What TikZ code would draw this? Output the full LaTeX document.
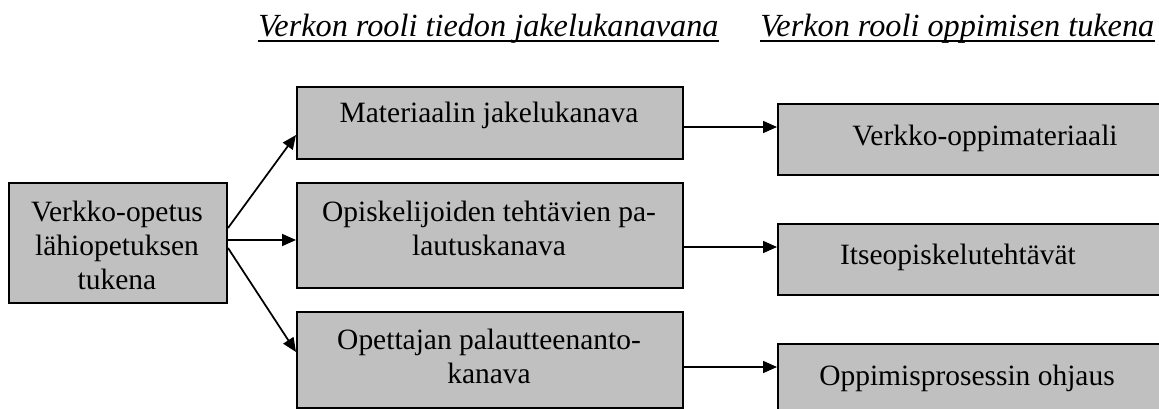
\documentclass[tikz,border=0pt]{standalone}
\usepackage{fontspec}
\setmainfont{Liberation Serif}
\usetikzlibrary{arrows.meta,calc}
\definecolor{boxgray}{HTML}{C0C0C0}
\tikzset{
  box/.style={draw=black, fill=boxgray, line width=1.5pt, inner sep=0pt, anchor=north west},
  boxtext/.style={inner sep=0pt, align=center, font=\fontsize{22.1}{25.5}\selectfont},
  title/.style={inner sep=0pt, anchor=base west, font=\fontsize{24.2}{27}\selectfont\itshape},
  conn/.style={line width=1.3pt, -{Triangle[length=10.5pt,width=9pt]}},
  uline/.style={line width=1.5pt}
}
\begin{document}
\begin{tikzpicture}[x=0.75pt,y=-0.75pt]
\useasboundingbox (0,0) rectangle (1159,409);
\begin{scope}
\clip (0,0) rectangle (1159,409);
% boxes
\node[box, minimum width=218*0.75pt, minimum height=120*0.75pt] (L) at (8,182) {};
\node[box, minimum width=386*0.75pt, minimum height=72*0.75pt] (M1) at (296,86) {};
\node[box, minimum width=386*0.75pt, minimum height=105*0.75pt] (M2) at (296,182) {};
\node[box, minimum width=386*0.75pt, minimum height=96*0.75pt] (M3) at (296,311) {};
\node[box, minimum width=430*0.75pt, minimum height=71*0.75pt] (R1) at (777,103) {};
\node[box, minimum width=430*0.75pt, minimum height=71*0.75pt] (R2) at (777,223) {};
\node[box, minimum width=430*0.75pt, minimum height=71*0.75pt] (R3) at (777,343) {};
\end{scope}
% texts
\node[boxtext, anchor=base] (tL) at (117,290) {Verkko-opetus\\lähiopetuksen\\tukena};
\node[boxtext, anchor=base] (tM1) at (489,123) {Materiaalin jakelukanava};
\node[boxtext, anchor=base] (tM2) at (489,256) {Opiskelijoiden tehtävien pa-\\lautuskanava};
\node[boxtext, anchor=base] (tM3) at (489,383) {Opettajan palautteenanto-\\kanava};
\node[boxtext, anchor=base] (tR1) at (985,146) {Verkko-oppimateriaali};
\node[boxtext, anchor=base] (tR2) at (958,265) {Itseopiskelutehtävät};
\node[boxtext, anchor=base] (tR3) at (967,385) {Oppimisprosessin ohjaus};
% titles
\node[title] (T1) at (258,37) {Verkon rooli tiedon jakelukanavana};
\node[title] (T2) at (760,37) {Verkon rooli oppimisen tukena};
\draw[uline] ($(T1.base west)+(0,4)$) -- ($(T1.base east)+(0,4)$);
\draw[uline] ($(T2.base west)+(0,4)$) -- ($(T2.base east)+(0,4)$);
% connectors
\draw[conn] ($(L.north east)+(0,46)$) -- ($(M1.north west)+(0,49)$);
\draw[conn] ($(L.north east)+(0,58)$) -- ($(M2.north west)+(0,58)$);
\draw[conn] ($(L.north east)+(0,66)$) -- ($(M3.north west)+(0,41)$);
\draw[conn] ($(M1.north east)+(0,41)$) -- ($(R1.north west)+(0,24)$);
\draw[conn] ($(M2.north east)+(0,65)$) -- ($(R2.north west)+(0,24)$);
\draw[conn] ($(M3.north east)+(0,56)$) -- ($(R3.north west)+(0,24)$);
\end{tikzpicture}
\end{document}
